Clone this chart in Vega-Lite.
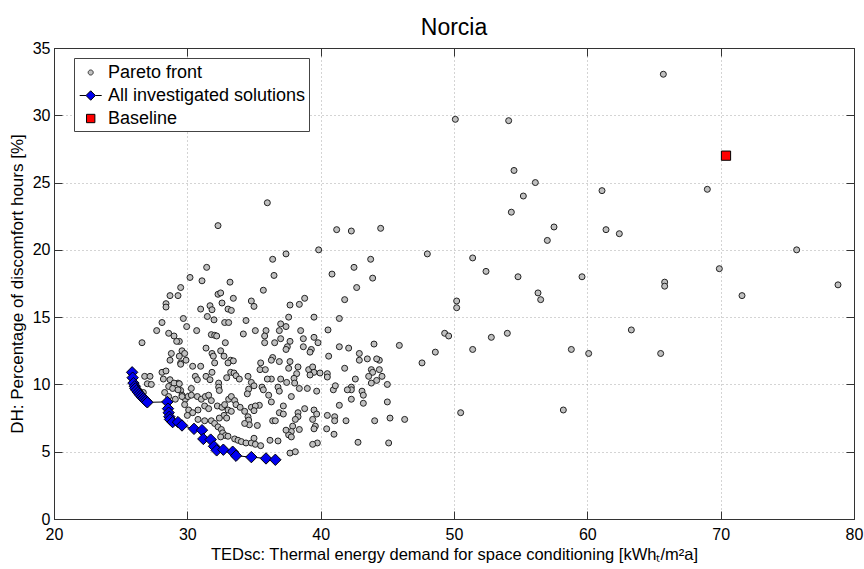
{
"$schema": "https://vega.github.io/schema/vega-lite/v6.json",
"width": 800,
"height": 471,
"autosize": {"type": "none"},
"padding": {"left": 54, "top": 48, "right": 10, "bottom": 50},
"background": "white",
"title": {"text": "Norcia", "fontSize": 23, "font": "Liberation Sans", "fontWeight": "normal", "color": "black", "offset": 0},
"config": {
  "view": {"stroke": "#333", "strokeWidth": 1},
  "font": "Liberation Sans",
  "axis": {"labelFont": "Liberation Sans", "labelFontSize": 16, "labelColor": "black", "labelFlush": false, "titleFont": "Liberation Sans", "titleFontSize": 17, "titleFontWeight": "normal", "titleColor": "black", "domainColor": "#333", "tickColor": "#333", "gridColor": "#a8a8a8", "gridDash": [1, 3], "gridWidth": 1}
},
"datasets": {
"front": [
{"x":50.1,"y":29.7},{"x":54.1,"y":29.6},{"x":54.5,"y":25.9},{"x":56.1,"y":25.0},{"x":55.2,"y":24.0},{"x":54.3,"y":22.8},{"x":57.5,"y":21.7},{"x":57.0,"y":20.7},{"x":61.1,"y":24.4},{"x":61.4,"y":21.5},{"x":62.4,"y":21.2},{"x":44.5,"y":21.6},{"x":48.0,"y":19.7},{"x":51.4,"y":19.4},{"x":52.4,"y":18.4},{"x":54.8,"y":18.0},{"x":59.6,"y":18.0},{"x":56.3,"y":16.8},{"x":56.5,"y":16.3},{"x":50.2,"y":16.2},{"x":50.2,"y":15.7},{"x":49.3,"y":13.8},{"x":49.6,"y":13.6},{"x":52.8,"y":13.5},{"x":54.0,"y":13.8},{"x":45.9,"y":12.9},{"x":48.6,"y":12.4},{"x":51.4,"y":12.6},{"x":58.8,"y":12.6},{"x":60.1,"y":12.3},{"x":47.6,"y":11.6},{"x":45.0,"y":10.0},{"x":45.0,"y":8.7},{"x":45.2,"y":7.5},{"x":46.3,"y":7.4},{"x":50.5,"y":7.9},{"x":58.2,"y":8.1},{"x":63.3,"y":14.05},{"x":44.4,"y":11.8},{"x":44.4,"y":11.1},{"x":44.6,"y":10.6},
{"x":65.7,"y":33.05},{"x":69.0,"y":24.5},{"x":75.7,"y":20.0},{"x":69.9,"y":18.6},{"x":65.8,"y":17.6},{"x":65.8,"y":17.3},{"x":71.6,"y":16.6},{"x":78.8,"y":17.4},{"x":65.5,"y":12.3},
{"x":42.3,"y":21.4},{"x":43.75,"y":19.3},{"x":42.5,"y":18.7},{"x":43.9,"y":17.9},{"x":42.7,"y":17.2},{"x":41.8,"y":16.3},{"x":41.4,"y":14.9},{"x":41.4,"y":12.8},{"x":42.1,"y":12.7},{"x":44.0,"y":13.0},{"x":42.9,"y":12.3},{"x":42.9,"y":11.8},{"x":43.5,"y":11.9},{"x":44.2,"y":11.9},{"x":41.8,"y":11.2},{"x":43.8,"y":11.1},{"x":43.9,"y":10.9},{"x":43.6,"y":10.6},{"x":44.2,"y":10.3},{"x":43.8,"y":10.1},{"x":42.6,"y":10.4},{"x":42.3,"y":9.8},{"x":42.3,"y":9.6},{"x":42.0,"y":9.6},{"x":43.1,"y":9.5},{"x":43.2,"y":9.2},{"x":42.3,"y":8.9},{"x":43.2,"y":8.6},{"x":41.4,"y":8.45},{"x":41.9,"y":7.3},{"x":44.05,"y":7.3},{"x":42.8,"y":5.7},{"x":45.1,"y":5.65},
{"x":36.0,"y":23.5},{"x":41.2,"y":21.5},{"x":39.85,"y":20.0},{"x":36.4,"y":19.3},{"x":37.4,"y":19.7},{"x":36.5,"y":18.1},{"x":40.85,"y":18.2},{"x":35.7,"y":17.0},{"x":38.8,"y":16.4},{"x":38.4,"y":15.95},{"x":37.7,"y":15.9},{"x":39.5,"y":15.0},{"x":37.6,"y":15.0},{"x":37.0,"y":14.5},{"x":37.4,"y":14.3},{"x":35.9,"y":14.0},{"x":35.8,"y":13.6},{"x":35.8,"y":13.1},{"x":36.9,"y":14.0},{"x":37.0,"y":13.4},{"x":36.55,"y":13.1},{"x":38.5,"y":14.0},{"x":37.7,"y":13.2},{"x":37.5,"y":12.8},{"x":37.4,"y":12.6},{"x":38.7,"y":13.4},{"x":38.7,"y":12.8},{"x":39.3,"y":12.6},{"x":39.2,"y":12.4},{"x":39.5,"y":13.5},{"x":39.8,"y":13.1},{"x":40.55,"y":14.05},{"x":40.6,"y":12.1},{"x":36.4,"y":12.0},{"x":36.3,"y":11.8},{"x":36.9,"y":11.7},{"x":37.7,"y":11.7},{"x":37.6,"y":11.2},{"x":35.5,"y":11.6},{"x":35.45,"y":11.1},{"x":35.85,"y":11.1},{"x":38.3,"y":11.3},{"x":38.2,"y":10.8},{"x":38.0,"y":10.45},{"x":38.05,"y":10.1},{"x":39.1,"y":11.1},{"x":39.4,"y":11.3},{"x":39.5,"y":10.9},{"x":39.95,"y":10.85},{"x":39.2,"y":10.7},{"x":40.5,"y":10.8},{"x":40.5,"y":10.55},{"x":40.95,"y":9.6},{"x":41.1,"y":9.9},{"x":36.3,"y":10.4},{"x":36.0,"y":10.4},{"x":37.0,"y":10.4},{"x":35.6,"y":9.8},{"x":36.8,"y":9.8},{"x":37.45,"y":10.15},{"x":38.4,"y":9.7},{"x":39.0,"y":9.7},{"x":39.7,"y":9.5},{"x":36.1,"y":9.2},{"x":36.3,"y":8.7},{"x":36.9,"y":9.5},{"x":37.8,"y":9.1},{"x":35.4,"y":8.45},{"x":37.2,"y":8.4},{"x":36.9,"y":7.9},{"x":37.2,"y":7.8},{"x":38.3,"y":7.9},{"x":38.8,"y":8.2},{"x":38.3,"y":7.6},{"x":38.1,"y":7.4},{"x":37.9,"y":6.9},{"x":37.8,"y":6.5},{"x":37.6,"y":6.25},{"x":37.8,"y":6.1},{"x":39.5,"y":8.1},{"x":39.7,"y":7.8},{"x":39.4,"y":7.4},{"x":39.6,"y":6.9},{"x":39.5,"y":6.7},{"x":39.75,"y":5.65},{"x":39.4,"y":5.55},{"x":40.5,"y":7.7},{"x":41.05,"y":7.6},{"x":41.05,"y":7.3},{"x":40.45,"y":6.7},{"x":41.0,"y":6.3},{"x":35.25,"y":6.95},{"x":36.4,"y":7.3},{"x":36.6,"y":7.3},{"x":36.2,"y":5.85},{"x":36.8,"y":5.8},{"x":37.4,"y":6.6},{"x":37.7,"y":4.9},{"x":38.1,"y":5.0},{"x":38.4,"y":6.65},
{"x":32.3,"y":21.8},{"x":31.45,"y":18.7},{"x":30.2,"y":17.95},{"x":31.1,"y":17.7},{"x":29.5,"y":17.2},{"x":29.3,"y":16.6},{"x":33.2,"y":17.6},{"x":32.3,"y":16.7},{"x":32.5,"y":16.8},{"x":33.45,"y":16.4},{"x":34.8,"y":16.2},{"x":35.0,"y":15.8},{"x":32.6,"y":16.05},{"x":33.05,"y":15.6},{"x":33.3,"y":15.5},{"x":31.7,"y":15.85},{"x":31.85,"y":15.55},{"x":31.0,"y":15.6},{"x":29.7,"y":14.9},{"x":29.95,"y":14.3},{"x":31.5,"y":15.05},{"x":32.0,"y":14.8},{"x":32.8,"y":14.6},{"x":33.1,"y":14.6},{"x":34.4,"y":14.75},{"x":35.1,"y":14.0},{"x":34.2,"y":13.75},{"x":30.7,"y":14.0},{"x":31.8,"y":13.7},{"x":32.05,"y":13.65},{"x":32.2,"y":13.6},{"x":29.4,"y":13.2},{"x":29.6,"y":12.5},{"x":29.9,"y":11.8},{"x":29.5,"y":11.6},{"x":31.4,"y":12.7},{"x":31.85,"y":12.3},{"x":31.95,"y":12.1},{"x":32.05,"y":11.6},{"x":31.85,"y":10.9},{"x":32.5,"y":12.5},{"x":32.85,"y":13.1},{"x":32.75,"y":12.1},{"x":33.25,"y":11.8},{"x":33.45,"y":11.75},{"x":33.05,"y":11.6},{"x":30.4,"y":11.35},{"x":31.0,"y":11.35},{"x":30.6,"y":10.6},{"x":30.75,"y":10.35},{"x":31.4,"y":10.6},{"x":31.7,"y":10.35},{"x":32.35,"y":10.1},{"x":32.35,"y":9.8},{"x":32.4,"y":9.55},{"x":32.95,"y":10.5},{"x":33.25,"y":10.9},{"x":33.5,"y":10.85},{"x":33.65,"y":10.65},{"x":33.9,"y":10.4},{"x":34.55,"y":10.6},{"x":34.8,"y":10.15},{"x":35.0,"y":9.9},{"x":34.6,"y":9.65},{"x":34.5,"y":9.3},{"x":35.7,"y":9.6},{"x":29.3,"y":10.1},{"x":29.5,"y":9.55},{"x":29.6,"y":9.2},{"x":29.85,"y":8.9},{"x":30.05,"y":9.1},{"x":30.3,"y":9.7},{"x":30.3,"y":9.2},{"x":30.75,"y":9.1},{"x":31.05,"y":8.9},{"x":31.35,"y":9.1},{"x":31.6,"y":9.2},{"x":31.8,"y":8.8},{"x":31.3,"y":8.4},{"x":31.6,"y":8.2},{"x":29.8,"y":8.5},{"x":30.1,"y":8.1},{"x":30.4,"y":7.9},{"x":30.0,"y":7.7},{"x":30.8,"y":8.1},{"x":32.25,"y":8.4},{"x":32.6,"y":8.3},{"x":32.8,"y":8.5},{"x":33.1,"y":8.9},{"x":33.3,"y":9.1},{"x":33.55,"y":8.8},{"x":33.65,"y":8.5},{"x":33.05,"y":8.1},{"x":33.3,"y":8.0},{"x":32.75,"y":7.7},{"x":32.95,"y":7.5},{"x":32.4,"y":7.5},{"x":33.96,"y":8.3},{"x":34.3,"y":8.0},{"x":34.55,"y":7.6},{"x":34.6,"y":7.35},{"x":34.8,"y":8.3},{"x":35.1,"y":8.4},{"x":35.0,"y":8.05},{"x":34.65,"y":7.0},{"x":34.3,"y":7.1},{"x":30.8,"y":7.4},{"x":31.3,"y":7.3},{"x":31.8,"y":7.3},{"x":32.05,"y":7.1},{"x":32.3,"y":6.85},{"x":32.55,"y":6.65},{"x":32.65,"y":6.4},{"x":32.85,"y":6.2},{"x":33.05,"y":6.15},{"x":32.5,"y":6.1},{"x":33.55,"y":5.95},{"x":33.8,"y":5.85},{"x":34.05,"y":5.75},{"x":34.4,"y":5.65},{"x":34.8,"y":5.65},{"x":35.1,"y":5.55},{"x":35.5,"y":5.45},{"x":35.0,"y":6.0},
{"x":28.7,"y":16.6},{"x":28.4,"y":16.0},{"x":28.4,"y":15.75},{"x":28.1,"y":14.6},{"x":27.7,"y":14.0},{"x":28.6,"y":13.8},{"x":29.0,"y":13.6},{"x":29.2,"y":13.2},{"x":26.6,"y":13.1},{"x":28.8,"y":12.3},{"x":28.7,"y":11.8},{"x":29.4,"y":12.1},{"x":29.5,"y":11.5},{"x":29.8,"y":12.3},{"x":26.8,"y":10.6},{"x":27.2,"y":10.6},{"x":27.0,"y":10.05},{"x":27.3,"y":10.0},{"x":28.1,"y":10.9},{"x":28.4,"y":11.0},{"x":28.2,"y":10.4},{"x":28.7,"y":10.35},{"x":29.0,"y":10.1},{"x":29.4,"y":10.05},{"x":28.6,"y":9.85},{"x":28.9,"y":9.7},{"x":29.3,"y":9.6},{"x":28.3,"y":9.4},{"x":28.6,"y":9.1},{"x":29.1,"y":8.9},{"x":29.6,"y":9.1},{"x":26.7,"y":9.4}
],
"solutions": [
{"x":25.86,"y":10.9},{"x":25.9,"y":10.5},{"x":25.96,"y":10.1},{"x":26.06,"y":9.86},{"x":26.1,"y":9.7},{"x":26.2,"y":9.56},{"x":26.3,"y":9.42},{"x":26.4,"y":9.3},{"x":26.5,"y":9.18},{"x":26.6,"y":9.07},{"x":26.7,"y":8.97},{"x":26.8,"y":8.87},{"x":26.9,"y":8.77},{"x":27.0,"y":8.67},{"x":28.5,"y":8.7},{"x":28.55,"y":8.2},{"x":28.6,"y":7.9},{"x":28.65,"y":7.6},{"x":28.7,"y":7.4},{"x":28.9,"y":7.2},{"x":29.3,"y":7.2},{"x":29.6,"y":6.95},{"x":30.5,"y":6.7},{"x":31.1,"y":6.6},{"x":31.2,"y":5.95},{"x":31.75,"y":5.9},{"x":32.0,"y":5.4},{"x":32.2,"y":5.1},{"x":32.7,"y":5.15},{"x":33.4,"y":5.0},{"x":33.65,"y":4.7},{"x":34.8,"y":4.6},{"x":35.9,"y":4.5},{"x":36.6,"y":4.4}
],
"baseline": [{"x":70.4,"y":27.0,"series":"Baseline"}]
},
"layer": [
{
  "data": {"name": "solutions"},
  "mark": {"type": "line", "color": "black", "strokeWidth": 1},
  "encoding": {
    "x": {"field": "x", "type": "quantitative", "scale": {"domain": [20, 80], "nice": false, "zero": false}, "axis": {"orient": "top", "labels": false, "grid": false, "ticks": true, "tickSize": -8, "title": null, "values": [20, 30, 40, 50, 60, 70, 80]}},
    "y": {"field": "y", "type": "quantitative", "scale": {"domain": [0, 35], "nice": false, "zero": false}, "axis": {"orient": "right", "labels": false, "grid": false, "ticks": true, "tickSize": -8, "title": null, "values": [0, 5, 10, 15, 20, 25, 30, 35]}}
  }
},
{
  "data": {"name": "front"},
  "mark": {"type": "point", "shape": "circle", "filled": true, "fill": "#c0c0c0", "stroke": "#222222", "strokeWidth": 1, "size": 36, "opacity": 1},
  "encoding": {
    "x": {"field": "x", "type": "quantitative", "axis": {"orient": "bottom", "grid": true, "ticks": true, "tickSize": -8, "labelPadding": 15, "title": "TEDsc: Thermal energy demand for space conditioning [kWhₜ/m²a]", "titleFontSize": 16.5, "titlePadding": 4, "values": [20, 30, 40, 50, 60, 70, 80]}},
    "y": {"field": "y", "type": "quantitative", "axis": {"orient": "left", "grid": true, "ticks": true, "tickSize": -8, "labelPadding": 12, "title": "DH: Percentage of discomfort hours [%]", "titlePadding": 6, "values": [0, 5, 10, 15, 20, 25, 30, 35]}}
  }
},
{
  "data": {"name": "solutions"},
  "mark": {"type": "point", "shape": "diamond", "filled": true, "fill": "#0000f0", "stroke": "black", "strokeWidth": 1, "size": 130, "opacity": 1},
  "encoding": {
    "x": {"field": "x", "type": "quantitative", "axis": null},
    "y": {"field": "y", "type": "quantitative", "axis": null}
  }
},
{
  "data": {"name": "baseline"},
  "mark": {"type": "point", "shape": "square", "filled": true, "fill": "#ff0000", "stroke": "black", "strokeWidth": 1, "size": 85, "opacity": 1},
  "encoding": {
    "x": {"field": "x", "type": "quantitative", "axis": null},
    "y": {"field": "y", "type": "quantitative", "axis": null}
  }
},
{
  "data": {"name": "baseline"},
  "mark": {"type": "point", "filled": true, "opacity": 0, "strokeWidth": 1, "size": 484},
  "encoding": {
    "x": {"field": "x", "type": "quantitative", "axis": null},
    "y": {"field": "y", "type": "quantitative", "axis": null},
    "shape": {"field": "series", "type": "nominal",
      "scale": {"domain": ["Pareto front", "All investigated solutions", "Baseline"], "range": ["M-0.03,0A0.23,0.23,0,1,1,0.43,0A0.23,0.23,0,1,1,-0.03,0Z", "M-0.8,0L-0.23,0M0.63,0L1.2,0M0.2,-0.43L0.63,0L0.2,0.43L-0.23,0Z", "M-0.18,-0.38L0.58,-0.38L0.58,0.38L-0.18,0.38Z"]},
      "legend": {"orient": "none", "legendX": 20, "legendY": 10, "title": null, "padding": 3, "labelFont": "Liberation Sans", "labelFontSize": 18, "labelColor": "black", "labelOffset": 8, "labelLimit": 500, "strokeColor": "#444", "fillColor": "white", "symbolStrokeWidth": 1, "symbolSize": 484, "symbolOpacity": 1, "rowPadding": 2}},
    "fill": {"field": "series", "type": "nominal",
      "scale": {"domain": ["Pareto front", "All investigated solutions", "Baseline"], "range": ["#c0c0c0", "#0000f0", "#ff0000"]},
      "legend": {"orient": "none", "legendX": 20, "legendY": 10, "title": null, "padding": 3, "labelFont": "Liberation Sans", "labelFontSize": 18, "labelColor": "black", "labelOffset": 8, "labelLimit": 500, "strokeColor": "#444", "fillColor": "white", "symbolStrokeWidth": 1, "symbolSize": 484, "symbolOpacity": 1, "rowPadding": 2}},
    "stroke": {"field": "series", "type": "nominal",
      "scale": {"domain": ["Pareto front", "All investigated solutions", "Baseline"], "range": ["#333333", "#000000", "#000000"]},
      "legend": {"orient": "none", "legendX": 20, "legendY": 10, "title": null, "padding": 3, "labelFont": "Liberation Sans", "labelFontSize": 18, "labelColor": "black", "labelOffset": 8, "labelLimit": 500, "strokeColor": "#444", "fillColor": "white", "symbolStrokeWidth": 1, "symbolSize": 484, "symbolOpacity": 1, "rowPadding": 2}}
  }
}
],
"resolve": {"axis": {"x": "independent", "y": "independent"}}
}
